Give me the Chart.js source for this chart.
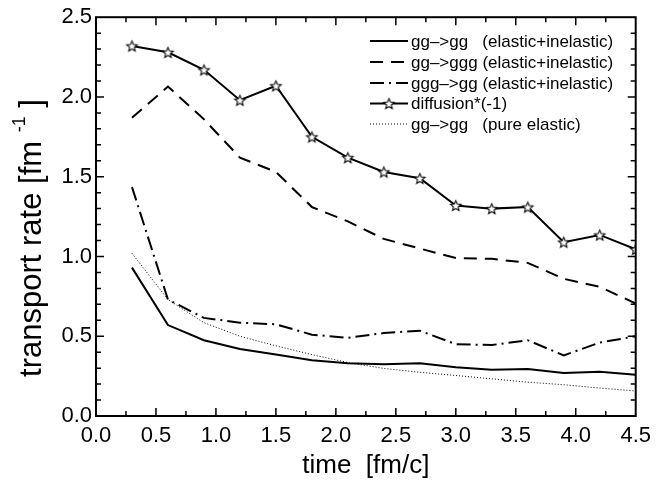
<!DOCTYPE html>
<html>
<head>
<meta charset="utf-8">
<script src="https://cdn.jsdelivr.net/npm/chart.js@4.4.1/dist/chart.umd.min.js"></script>
<style>
  html, body { margin: 0; padding: 0; background: #fff; }
  #wrap { width: 658px; height: 483px; }
</style>
</head>
<body>
<div id="wrap"><canvas id="rateChart"></canvas></div>
<script>
  // time points [fm/c]
  const times = [0.3, 0.6, 0.9, 1.2, 1.5, 1.8, 2.1, 2.4, 2.7, 3.0, 3.3, 3.6, 3.9, 4.2, 4.5];

  // transport rates [fm^-1]
  const ggTotal   = [0.93, 0.57, 0.475, 0.42, 0.385, 0.35, 0.33, 0.325, 0.33, 0.305, 0.29, 0.295, 0.27, 0.278, 0.258];
  const ggToGgg   = [1.87, 2.065, 1.86, 1.62, 1.53, 1.31, 1.22, 1.11, 1.05, 0.99, 0.985, 0.96, 0.86, 0.81, 0.705];
  const gggToGg   = [1.435, 0.73, 0.615, 0.585, 0.575, 0.51, 0.49, 0.52, 0.535, 0.45, 0.445, 0.475, 0.38, 0.46, 0.50];
  const diffusion = [2.32, 2.28, 2.17, 1.98, 2.07, 1.75, 1.62, 1.53, 1.49, 1.32, 1.30, 1.31, 1.09, 1.135, 1.045];
  const ggElastic = [1.02, 0.73, 0.585, 0.50, 0.44, 0.385, 0.335, 0.298, 0.274, 0.254, 0.233, 0.212, 0.196, 0.175, 0.157];

  const seriesLabels = [
    'gg\u2013>gg   (elastic+inelastic)',
    'gg\u2013>ggg (elastic+inelastic)',
    'ggg\u2013>gg (elastic+inelastic)',
    'diffusion*(-1)',
    'gg\u2013>gg   (pure elastic)'
  ];

  const FONT = '"Liberation Sans", Arial, Helvetica, sans-serif';

  function makeStar(r) {
    const c = document.createElement('canvas');
    const s = Math.ceil(r * 2 + 4);
    c.width = s; c.height = s;
    const g = c.getContext('2d');
    g.translate(s / 2, s / 2 + 0.6);
    g.beginPath();
    for (let i = 0; i < 10; i++) {
      const rad = i % 2 ? r * 0.45 : r;
      const ang = -Math.PI / 2 + i * Math.PI / 5;
      g.lineTo(rad * Math.cos(ang), rad * Math.sin(ang));
    }
    g.closePath();
    g.fillStyle = '#fff';
    g.fill();
    g.strokeStyle = '#000';
    g.lineWidth = 1.1;
    g.stroke();
    return c;
  }
  const star = makeStar(5.5);

  const toPoints = ys => times.map((t, i) => ({ x: t, y: ys[i] }));

  const styles = [
    { dash: [], width: 2, star: false },
    { dash: [13, 8], width: 2, star: false },
    { dash: [14, 5, 2, 5], width: 2, star: false },
    { dash: [], width: 2, star: true },
    { dash: [1, 2], width: 1, star: false }
  ];
  const allSeries = [ggTotal, ggToGgg, gggToGg, diffusion, ggElastic];

  const datasets = allSeries.map((ys, i) => ({
    label: seriesLabels[i],
    data: toPoints(ys),
    borderColor: '#000',
    borderWidth: styles[i].width,
    borderDash: styles[i].dash,
    pointStyle: styles[i].star ? star : 'circle',
    pointRadius: styles[i].star ? 6 : 0,
    fill: false,
    tension: 0
  }));

  // box frame with inward ticks on all four sides, y title, and the legend
  const frameTicks = {
    id: 'frameTicks',
    afterDraw(chart) {
      const { ctx, chartArea: a, scales: { x, y } } = chart;
      ctx.save();
      ctx.strokeStyle = '#000';
      ctx.lineWidth = 2;
      ctx.strokeRect(a.left, a.top, a.right - a.left, a.bottom - a.top);

      ctx.lineWidth = 1.5;
      ctx.beginPath();
      for (let i = 1; i < 18; i++) {
        const px = x.getPixelForValue(i * 0.25);
        const len = i % 2 === 0 ? 8 : 5;
        ctx.moveTo(px, a.bottom); ctx.lineTo(px, a.bottom - len);
        ctx.moveTo(px, a.top); ctx.lineTo(px, a.top + len);
      }
      for (let i = 1; i < 25; i++) {
        const py = y.getPixelForValue(i * 0.1);
        const len = i % 5 === 0 ? 8 : 5;
        ctx.moveTo(a.left, py); ctx.lineTo(a.left + len, py);
        ctx.moveTo(a.right, py); ctx.lineTo(a.right - len, py);
      }
      ctx.stroke();

      // y axis title with superscript
      ctx.fillStyle = '#000';
      ctx.textBaseline = 'middle';
      ctx.textAlign = 'left';
      const main = 'transport rate [fm ';
      const sup = '-1';
      const tail = ' ]';
      ctx.font = '31px ' + FONT;
      const w1 = ctx.measureText(main).width;
      const w3 = ctx.measureText(tail).width;
      ctx.font = '18px ' + FONT;
      const w2 = ctx.measureText(sup).width;
      const total = w1 + w2 + w3;
      ctx.translate(32, 238);
      ctx.rotate(-Math.PI / 2);
      ctx.font = '31px ' + FONT;
      ctx.fillText(main, -total / 2, 0);
      ctx.fillText(tail, -total / 2 + w1 + w2, 0);
      ctx.font = '18px ' + FONT;
      ctx.fillText(sup, -total / 2 + w1, -12);
      ctx.restore();

      // legend
      ctx.save();
      ctx.strokeStyle = '#000';
      ctx.fillStyle = '#000';
      ctx.font = '17px ' + FONT;
      ctx.textBaseline = 'middle';
      const rowY = [41, 62, 83, 103.5, 124];
      chart.data.datasets.forEach((ds, i) => {
        const yy = rowY[i];
        ctx.lineWidth = styles[i].width;
        ctx.setLineDash(styles[i].dash);
        ctx.beginPath();
        ctx.moveTo(370, yy);
        ctx.lineTo(408, yy);
        ctx.stroke();
        ctx.setLineDash([]);
        if (styles[i].star) ctx.drawImage(star, 389 - star.width / 2, yy - star.height / 2);
        ctx.fillText(ds.label, 411, yy + 1);
      });
      ctx.restore();
    }
  };

  const tickFont = { family: FONT, size: 22 };

  new Chart(document.getElementById('rateChart'), {
    type: 'line',
    data: { datasets: datasets },
    options: {
      responsive: true,
      maintainAspectRatio: false,
      animation: false,
      layout: { padding: { top: 12, right: 19, left: 0, bottom: 0 } },
      plugins: { legend: { display: false }, tooltip: { enabled: false } },
      scales: {
        x: {
          type: 'linear', min: 0, max: 4.5,
          ticks: { stepSize: 0.5, callback: v => v.toFixed(1), font: tickFont, color: '#000', padding: 7, maxRotation: 0 },
          grid: { display: false, drawTicks: false },
          border: { display: false },
          title: { display: true, text: 'time  [fm/c]', font: { family: FONT, size: 26 }, color: '#000', padding: { top: 0, bottom: 2 } },
          afterFit: s => { s.height = 67; }
        },
        y: {
          min: 0, max: 2.5,
          ticks: { stepSize: 0.5, callback: v => v.toFixed(1), font: tickFont, color: '#000', padding: 4 },
          grid: { display: false, drawTicks: false },
          border: { display: false },
          afterFit: s => { s.width = 96; }
        }
      }
    },
    plugins: [frameTicks]
  });
</script>
</body>
</html>
